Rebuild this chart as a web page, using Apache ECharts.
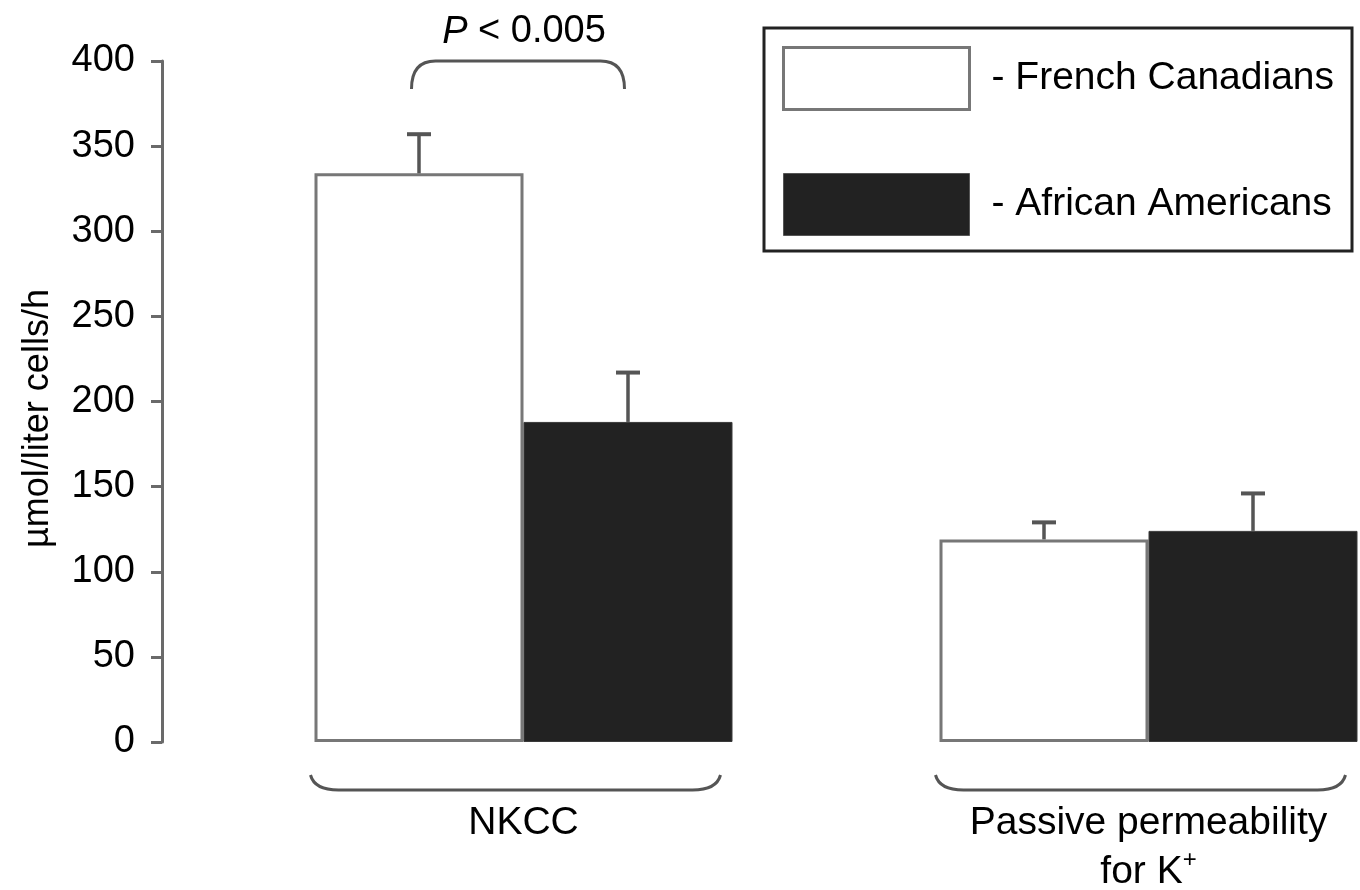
<!DOCTYPE html>
<html>
<head>
<meta charset="utf-8">
<script src="https://cdn.jsdelivr.net/npm/echarts@6/dist/echarts.min.js"></script>
<style>
  html, body { margin: 0; padding: 0; background: #fff; }
  #chart { width: 1360px; height: 890px; }
</style>
</head>
<body>
<div id="chart"></div>
<script>
// ---- data ----
const categories = ['NKCC', 'Passive permeability\nfor K+'];
const seriesNames = ['French Canadians', 'African Americans'];
const frenchCanadians = [334, 119];
const frenchCanadiansSE = [23, 10];
const africanAmericans = [188, 124];
const africanAmericansSE = [29, 22];
const yTicks = [0, 50, 100, 150, 200, 250, 300, 350, 400];
const pLabel = 'P < 0.005';

// ---- style ----
const FONT = 'Liberation Sans, Arial, Helvetica, sans-serif';
const BAR_W = 209;
const GREY = '#6a6a6a';

const chart = echarts.init(document.getElementById('chart'), null, { renderer: 'canvas' });

function errData(means, se) {
  return means.map((m, i) => [i, m, m + se[i]]);
}
function errRender(sign) {
  return function (params, api) {
    const cat = api.value(0), mean = api.value(1), top = api.value(2);
    const c = api.coord([cat, mean]);
    const t = api.coord([cat, top]);
    const x = c[0] + sign * BAR_W / 2;
    return {
      type: 'group',
      children: [
        { type: 'line', shape: { x1: x, y1: c[1], x2: x, y2: t[1] }, style: { stroke: '#555', lineWidth: 3.5 } },
        { type: 'line', shape: { x1: x - 12, y1: t[1], x2: x + 12, y2: t[1] }, style: { stroke: '#555', lineWidth: 4 } }
      ]
    };
  };
}

const pRich = pLabel.replace(/^P/, '{i|P}');

const option = {
  backgroundColor: '#fff',
  animation: false,
  grid: { left: 211, top: 61, width: 1250, height: 681, containLabel: false, outerBoundsMode: 'none' },
  legend: {
    left: 764, top: 28,
    orient: 'vertical',
    itemWidth: 186, itemHeight: 62, itemGap: 62,
    padding: [18, 18, 15, 18],
    borderColor: '#222', borderWidth: 3, backgroundColor: '#fff',
    selectedMode: false,
    formatter: name => '- ' + name,
    textStyle: { fontFamily: FONT, fontSize: 39, color: '#000', padding: [4, 0, 0, 17] },
    data: [
      { name: seriesNames[0], icon: 'rect', itemStyle: { color: '#fff', borderColor: '#777', borderWidth: 3 } },
      { name: seriesNames[1], icon: 'rect', itemStyle: { color: '#222', borderColor: '#555', borderWidth: 1 } }
    ]
  },
  xAxis: {
    type: 'category',
    data: categories,
    axisLine: { show: false },
    axisTick: { show: false },
    axisLabel: {
      margin: 57,
      interval: 0,
      fontFamily: FONT, fontSize: 39, lineHeight: 49, color: '#000',
      verticalAlign: 'top',
      formatter: v => v.replace('K+', 'K{sup|+}'),
      rich: {
        sup: { fontFamily: FONT, fontSize: 24, lineHeight: 30, verticalAlign: 'top', color: '#000' }
      }
    }
  },
  yAxis: {
    type: 'value',
    min: yTicks[0], max: yTicks[yTicks.length - 1], interval: 50,
    offset: 49,
    name: 'µmol/liter cells/h',
    nameLocation: 'middle',
    nameRotate: 90,
    nameGap: 106,
    nameTextStyle: { fontFamily: FONT, fontSize: 36, color: '#000', padding: [0, 34, 0, 0] },
    axisLine: { show: true, lineStyle: { color: GREY, width: 3 } },
    axisTick: { show: true, length: 11, lineStyle: { color: GREY, width: 3 } },
    axisLabel: { margin: 27, fontFamily: FONT, fontSize: 38, color: '#000' },
    splitLine: { show: false }
  },
  series: [
    {
      name: seriesNames[0], type: 'bar', barWidth: BAR_W, barGap: '0%',
      data: frenchCanadians,
      itemStyle: { color: '#fff', borderColor: '#777', borderWidth: 3 },
      z: 2
    },
    {
      name: seriesNames[1], type: 'bar', barWidth: BAR_W, barGap: '0%',
      data: africanAmericans,
      itemStyle: { color: '#222', borderColor: '#3a3a3a', borderWidth: 1 },
      z: 2
    },
    {
      name: 'errFC', type: 'custom', data: errData(frenchCanadians, frenchCanadiansSE),
      renderItem: errRender(-1), z: 3, silent: true
    },
    {
      name: 'errAA', type: 'custom', data: errData(africanAmericans, africanAmericansSE),
      renderItem: errRender(1), z: 3, silent: true
    },
    {
      name: 'braces', type: 'custom', silent: true, z: 3,
      data: categories.map((c, i) => [i, 0]),
      renderItem: function (params, api) {
        const p = api.coord([api.value(0), 0]);
        const x1 = p[0] - 213, x2 = p[0] + 197;
        const yEnd = p[1] + 33, yLine = p[1] + 48, r = 28;
        const d = `M${x1},${yEnd} Q${x1 + 4},${yLine} ${x1 + r},${yLine} L${x2 - r},${yLine} Q${x2 - 4},${yLine} ${x2},${yEnd}`;
        return { type: 'path', shape: { pathData: d }, style: { fill: 'none', stroke: '#555', lineWidth: 3 } };
      }
    },
    {
      name: 'signif', type: 'custom', silent: true, z: 3,
      data: [[0, yTicks[yTicks.length - 1]]],
      renderItem: function (params, api) {
        const p = api.coord([api.value(0), api.value(1)]);
        const x1 = p[0] - 112, x2 = p[0] + 101;
        const yTop = p[1], yEnd = p[1] + 28, r = 24;
        const d = `M${x1},${yEnd} Q${x1},${yTop} ${x1 + r},${yTop} L${x2 - r},${yTop} Q${x2},${yTop} ${x2},${yEnd}`;
        return {
          type: 'group',
          children: [
            { type: 'path', shape: { pathData: d }, style: { fill: 'none', stroke: '#555', lineWidth: 3 } },
            {
              type: 'text',
              style: {
                x: (x1 + x2) / 2 + 6, y: yTop - 10,
                text: pRich,
                align: 'center', verticalAlign: 'bottom',
                fontFamily: FONT, fontSize: 38, fill: '#000',
                rich: { i: { fontStyle: 'italic', fontFamily: FONT, fontSize: 38, fill: '#000' } }
              }
            }
          ]
        };
      }
    }
  ]
};

chart.setOption(option);
</script>
</body>
</html>
